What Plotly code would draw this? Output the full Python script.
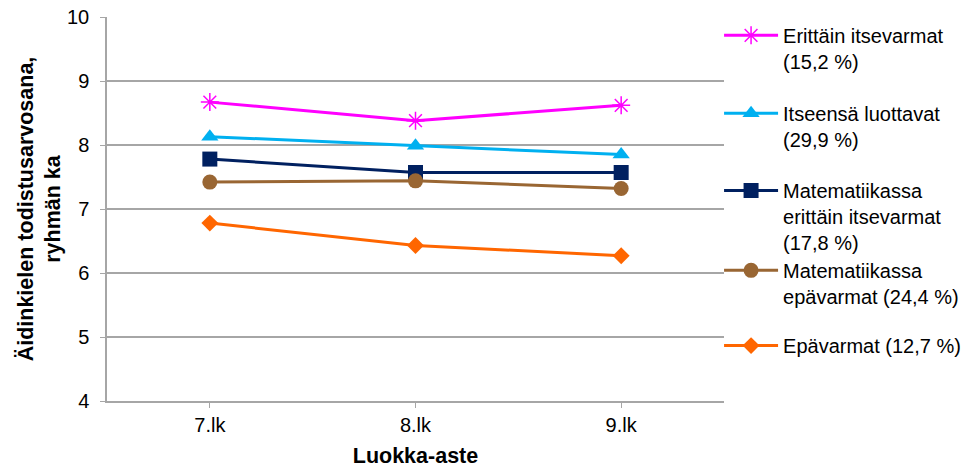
import plotly.graph_objects as go

categories = ["7.lk", "8.lk", "9.lk"]

series_names = [
    "Erittäin itsevarmat<br>(15,2 %)",
    "Itseensä luottavat<br>(29,9 %)",
    "Matematiikassa<br>erittäin itsevarmat<br>(17,8 %)",
    "Matematiikassa<br>epävarmat (24,4 %)",
    "Epävarmat (12,7 %)",
]
erittain_itsevarmat = [8.67, 8.38, 8.62]
itseensa_luottavat = [8.13, 7.99, 7.85]
mat_erittain_itsevarmat = [7.78, 7.57, 7.57]
mat_epavarmat = [7.42, 7.44, 7.32]
epavarmat = [6.78, 6.43, 6.27]

values = [erittain_itsevarmat, itseensa_luottavat, mat_erittain_itsevarmat,
          mat_epavarmat, epavarmat]
colors = ["#FF00FF", "#00B0F0", "#002060", "#996633", "#FF6600"]
symbols = ["asterisk-open", "triangle-up", "square", "circle", "diamond"]
sizes = [15, 15, 15, 15, 13]
legend_ids = ["legend", "legend2", "legend3", "legend4", "legend5"]
legend_tops = [1.003, 0.80, 0.599, 0.391, 0.195]

FONT = "Liberation Sans, Arial, sans-serif"

fig = go.Figure()
for name, vals, col, sym, sz, lg in zip(series_names, values, colors, symbols, sizes, legend_ids):
    fig.add_trace(go.Scatter(
        x=categories, y=vals, name=name, mode="lines+markers",
        line=dict(color=col, width=3),
        marker=dict(color=col, symbol=sym, size=sz,
                    line=dict(color=col, width=1.5 if sym == "asterisk-open" else 0)),
        legend=lg,
    ))

layout_legends = {}
for lg, top in zip(legend_ids, legend_tops):
    layout_legends[lg] = dict(
        x=0.992, xanchor="left", y=top, yanchor="top",
        font=dict(family=FONT, size=20, color="#000000"),
        bgcolor="rgba(0,0,0,0)", borderwidth=0, valign="top",
        itemwidth=54,
    )

fig.update_layout(
    width=964, height=468,
    margin=dict(l=107, r=240, t=17, b=67, autoexpand=False),
    paper_bgcolor="white", plot_bgcolor="white",
    font=dict(family=FONT, size=20, color="#000000"),
    showlegend=True,
    **layout_legends,
)
fig.update_xaxes(
    type="category", range=[-0.5, 2.5], automargin=False,
    showline=True, linecolor="#A6A6A6", linewidth=1.5,
    ticks="outside", ticklen=5, tickcolor="#A6A6A6",
    showgrid=False, zeroline=False,
    tickfont=dict(family=FONT, size=20),
    title=dict(text="<b>Luokka-aste</b>", font=dict(family=FONT, size=21.5), standoff=19),
)
fig.update_yaxes(
    range=[4, 10], dtick=1, automargin=False,
    showline=True, linecolor="#A6A6A6", linewidth=1.5,
    ticks="outside", ticklen=5, tickcolor="#A6A6A6", ticklabelstandoff=7,
    showgrid=True, gridcolor="#A6A6A6", gridwidth=1.5, zeroline=False,
    tickfont=dict(family=FONT, size=20),
    title=dict(text="<b>Äidinkielen todistusarvosana,<br>ryhmän ka</b>",
               font=dict(family=FONT, size=21.5), standoff=0),
)

fig.write_html("out.html", config={"displayModeBar": False},
               post_script="document.body.style.margin='0';")
